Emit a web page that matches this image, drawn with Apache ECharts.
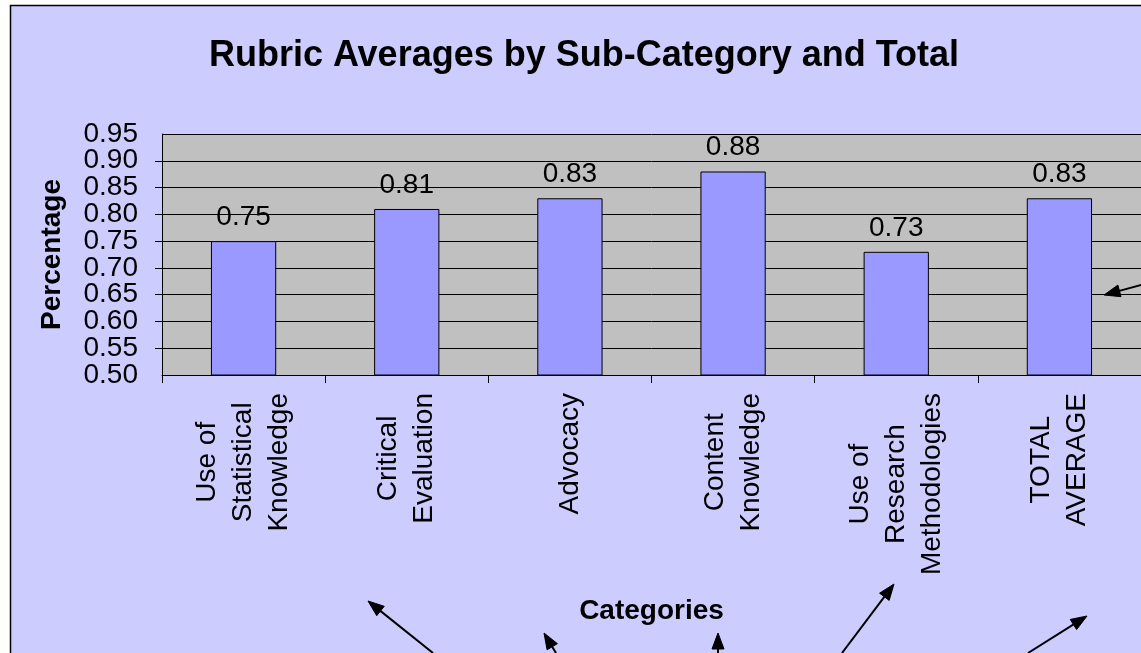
<!DOCTYPE html>
<html>
<head>
<meta charset="utf-8">
<script src="https://cdn.jsdelivr.net/npm/echarts@6/dist/echarts.min.js"></script>
<style>
  html, body { margin: 0; padding: 0; background: #ffffff; }
  #chart { width: 1141px; height: 653px; }
</style>
</head>
<body>
<div id="chart"></div>
<script>
// Rubric sub-categories and their average scores
const categories = [
  'Use of\nStatistical\nKnowledge',
  'Critical\nEvaluation',
  'Advocacy',
  'Content\nKnowledge',
  'Use of\nResearch\nMethodologies',
  'TOTAL\nAVERAGE'
];
const averages = [0.75, 0.81, 0.83, 0.88, 0.73, 0.83];

// Value axis tick marks
const percentTicks = [0.50, 0.55, 0.60, 0.65, 0.70, 0.75, 0.80, 0.85, 0.90, 0.95];

const FONT = '"Liberation Sans", Arial, Helvetica, sans-serif';

// Callout arrows: [tail, tip] in page pixels
const callouts = [
  [[433, 653], [368, 601]],
  [[556, 653], [544, 633]],
  [[718, 653], [718, 633]],
  [[842, 653], [894, 584]],
  [[1028, 653], [1087, 616]],
  [[1145, 284], [1104, 295]]
];

function arrowGraphics(list) {
  const out = [];
  const headLen = 16, headHalf = 6;
  list.forEach(function (a) {
    const tail = a[0], tip = a[1];
    const dx = tip[0] - tail[0], dy = tip[1] - tail[1];
    const len = Math.sqrt(dx * dx + dy * dy);
    const ux = dx / len, uy = dy / len;
    const nx = -uy, ny = ux;
    const bx = tip[0] - headLen * ux, by = tip[1] - headLen * uy;
    out.push({
      type: 'line', z: 100,
      shape: { x1: tail[0], y1: tail[1], x2: bx + 3 * ux, y2: by + 3 * uy },
      style: { stroke: '#000', lineWidth: 2 }
    });
    out.push({
      type: 'polygon', z: 100,
      shape: { points: [tip, [bx + headHalf * nx, by + headHalf * ny], [bx - headHalf * nx, by - headHalf * ny]] },
      style: { fill: '#000', stroke: '#000', lineWidth: 1 }
    });
  });
  return out;
}

const chart = echarts.init(document.getElementById('chart'), null, { renderer: 'canvas' });

const yMin = percentTicks[0];
const yMax = percentTicks[percentTicks.length - 1];
const tickStep = Math.round((percentTicks[1] - percentTicks[0]) * 100) / 100;

const tickLabelStyle = {
  margin: 24,
  hideOverlap: false,
  color: '#000',
  fontFamily: FONT,
  fontSize: 28
};

const option = {
  animation: false,
  backgroundColor: '#CCCCFF',
  textStyle: { fontFamily: FONT },
  title: {
    text: 'Rubric Averages by Sub-Category and Total',
    left: 584,
    top: 38,
    padding: 0,
    textAlign: 'center',
    textStyle: { fontFamily: FONT, fontSize: 36, fontWeight: 'bold', color: '#000' }
  },
  grid: {
    left: 162,
    top: 134,
    width: 981,
    height: 241,
    show: true,
    backgroundColor: '#C0C0C0',
    borderWidth: 0,
    containLabel: false
  },
  xAxis: {
    type: 'category',
    data: categories,
    name: 'Categories',
    nameLocation: 'middle',
    nameGap: 222,
    nameTextStyle: { fontFamily: FONT, fontSize: 28, fontWeight: 'bold', color: '#000' },
    axisLine: { show: true, lineStyle: { color: '#000', width: 1 } },
    axisTick: { show: true, length: 8, lineStyle: { color: '#000' }, alignWithLabel: false },
    axisLabel: {
      interval: 0,
      rotate: 90,
      margin: 18,
      hideOverlap: false,
      color: '#000',
      fontFamily: FONT,
      fontSize: 28,
      formatter: function (v) {
        return v.split('\n').map(function (s) { return '{c|' + s + '}'; }).join('\n');
      },
      rich: {
        c: { fontFamily: FONT, fontSize: 28, lineHeight: 36, align: 'center', color: '#000' }
      }
    },
    splitLine: { show: false }
  },
  yAxis: [{
    // main value axis: inner tick labels, ticks, gridlines
    type: 'value',
    position: 'left',
    min: yMin,
    max: yMax,
    interval: tickStep,
    name: 'Percentage',
    nameLocation: 'middle',
    nameGap: 96,
    nameTextStyle: { fontFamily: FONT, fontSize: 28, fontWeight: 'bold', color: '#000' },
    axisLine: { show: true, lineStyle: { color: '#000', width: 1 } },
    axisTick: { show: true, length: 7, lineStyle: { color: '#000' } },
    axisLabel: Object.assign({}, tickLabelStyle, {
      showMinLabel: false,
      showMaxLabel: false,
      formatter: function (v) { return v.toFixed(2); }
    }),
    splitLine: { show: true, lineStyle: { color: '#000', width: 1 } }
  }, {
    // same scale, carrying only the end labels (0.50 and 0.95)
    type: 'value',
    position: 'left',
    offset: 0,
    min: yMin,
    max: yMax,
    interval: tickStep,
    axisLine: { show: false },
    axisTick: { show: false },
    splitLine: { show: false },
    axisLabel: Object.assign({}, tickLabelStyle, {
      showMinLabel: true,
      showMaxLabel: true,
      formatter: function (v) {
        return (Math.abs(v - yMin) < 1e-6 || Math.abs(v - yMax) < 1e-6) ? v.toFixed(2) : '';
      }
    })
  }],
  series: [{
    type: 'bar',
    yAxisIndex: 0,
    data: averages,
    barWidth: '40%',
    itemStyle: { color: '#9999FF', borderColor: '#000', borderWidth: 1 },
    label: {
      show: true,
      position: 'top',
      distance: 10,
      color: '#000',
      fontFamily: FONT,
      fontSize: 28,
      formatter: function (p) { return p.value.toFixed(2); }
    }
  }],
  graphic: [
    { type: 'rect', z: 90, shape: { x: 0, y: 0, width: 10, height: 653 }, style: { fill: '#fff' } },
    { type: 'rect', z: 90, shape: { x: 0, y: 0, width: 1141, height: 5 }, style: { fill: '#fff' } },
    { type: 'polyline', z: 91, shape: { points: [[10.5, 653], [10.5, 5.5], [1141, 5.5]] }, style: { stroke: '#000', lineWidth: 1.5, fill: null } }
  ].concat(arrowGraphics(callouts))
};

chart.setOption(option);
</script>
</body>
</html>
